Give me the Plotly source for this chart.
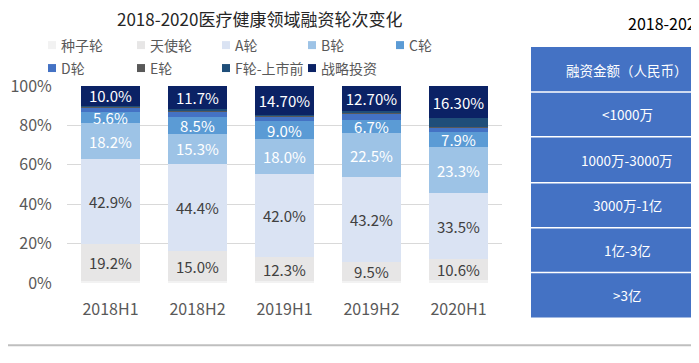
import plotly.graph_objects as go

periods = ["2018H1", "2018H2", "2019H1", "2019H2", "2020H1"]

seed = [0.8, 1.0, 0.8, 1.0, 1.5]
angel = [19.2, 15.0, 12.3, 9.5, 10.6]
round_a = [42.9, 44.4, 42.0, 43.2, 33.5]
round_b = [18.2, 15.3, 18.0, 22.5, 23.3]
round_c = [5.6, 8.5, 9.0, 6.7, 7.9]
round_d = [2.5, 3.0, 2.5, 3.0, 2.0]
round_e = [0.3, 0.5, 0.3, 0.6, 0.5]
round_f = [0.5, 0.6, 0.4, 0.8, 4.4]
strategic = [10.0, 11.7, 14.7, 12.7, 16.3]

angel_labels = ["19.2%", "15.0%", "12.3%", "9.5%", "10.6%"]
a_labels = ["42.9%", "44.4%", "42.0%", "43.2%", "33.5%"]
b_labels = ["18.2%", "15.3%", "18.0%", "22.5%", "23.3%"]
c_labels = ["5.6%", "8.5%", "9.0%", "6.7%", "7.9%"]
strategic_labels = ["10.0%", "11.7%", "14.70%", "12.70%", "16.30%"]

series_names = ["种子轮", "天使轮", "A轮", "B轮", "C轮", "D轮", "E轮", "F轮-上市前", "战略投资"]
series_values = [seed, angel, round_a, round_b, round_c, round_d, round_e, round_f, strategic]
series_labels = [None, angel_labels, a_labels, b_labels, c_labels, None, None, None, strategic_labels]
series_colors = ["#f2f2f2", "#e7e6e6", "#dae3f3", "#9dc3e6", "#5b9bd5", "#4472c4", "#595959", "#1f4e79", "#0b2265"]
label_colors = ["#404040", "#404040", "#404040", "#ffffff", "#ffffff", "#ffffff", "#ffffff", "#ffffff", "#ffffff"]

y_ticks = [0, 20, 40, 60, 80, 100]
y_tick_text = ["0%", "20%", "40%", "60%", "80%", "100%"]

table_rows = ["融资金额（人民币）", "<1000万", "1000万-3000万", "3000万-1亿", "1亿-3亿", ">3亿"]

FONT = "Noto Sans CJK SC, Microsoft YaHei, sans-serif"
OFF = 8  # page body margin
W, H = 691, 355
ML, MR, MT, MB = 59, 197, 78, 79.5
PW, PH = W - ML - MR, H - MT - MB

fig = go.Figure()
for name, vals, labels, color, lc in zip(series_names, series_values, series_labels, series_colors, label_colors):
    fig.add_trace(go.Bar(
        x=periods, y=vals, name=name, marker=dict(color=color, line=dict(width=0)),
        text=labels if labels else None,
        textposition="inside" if labels else "none",
        insidetextanchor="middle",
        constraintext="none",
        textfont=dict(size=15, color=lc, family=FONT),
        hoverinfo="skip",
    ))

fig.update_layout(
    barmode="stack", bargap=0.333,
    width=W, height=H,
    margin=dict(l=ML, r=MR, t=MT, b=MB, pad=0),
    paper_bgcolor="white", plot_bgcolor="white",
    showlegend=False,
    font=dict(family=FONT, color="#595959"),
    xaxis=dict(tickfont=dict(size=16, color="#595959"), ticks="outside", ticklen=12,
               tickcolor="rgba(0,0,0,0)", showline=False, showgrid=False, automargin=False),
    yaxis=dict(range=[0, 100], tickvals=y_ticks, ticktext=y_tick_text,
               tickfont=dict(size=16, color="#595959"), gridcolor="#d9d9d9",
               gridwidth=1, zeroline=False, showline=False, ticks="outside", ticklen=11,
               tickcolor="rgba(0,0,0,0)", automargin=False),
)

def px(sx):
    return (sx - OFF - ML) / PW

def py(sy):
    return 1 - (sy - OFF - MT) / PH

# titles
fig.add_annotation(text="2018-2020医疗健康领域融资轮次变化", x=px(259), y=py(18), xref="paper", yref="paper",
                   showarrow=False, xanchor="center", yanchor="middle",
                   font=dict(size=17, color="#262626", family=FONT))
fig.add_annotation(text="2018-2020医疗健康领域融资金额分布", x=px(626), y=py(23), xref="paper", yref="paper",
                   showarrow=False, xanchor="left", yanchor="middle",
                   font=dict(size=16, color="#000000", family=FONT))

# manual legend
legend_pos = [(48, 45), (137, 45), (222, 45), (308, 45), (396, 45),
              (48, 68), (137, 68), (222, 68), (308, 68)]
for name, color, (lx, ly) in zip(series_names, series_colors, legend_pos):
    fig.add_shape(type="rect", xref="paper", yref="paper",
                  x0=px(lx), x1=px(lx + 8), y0=py(ly + 4), y1=py(ly - 4),
                  fillcolor=color, line=dict(width=0))
    fig.add_annotation(text=name, x=px(lx + 11), y=py(ly), xref="paper", yref="paper",
                       showarrow=False, xanchor="left", yanchor="middle",
                       font=dict(size=14, color="#595959", family=FONT))

# table on the right
tx0, tx1 = 531, 723
row_edges = [47, 92, 137, 183, 228, 273, 318]
fig.add_shape(type="rect", xref="paper", yref="paper",
              x0=px(tx0), x1=px(tx1), y0=py(row_edges[-1]), y1=py(row_edges[0]),
              fillcolor="#4472c4", line=dict(width=0))
for e in row_edges[1:-1]:
    fig.add_shape(type="line", xref="paper", yref="paper",
                  x0=px(tx0), x1=px(tx1), y0=py(e), y1=py(e),
                  line=dict(color="#ffffff", width=1.5))
for i, t in enumerate(table_rows):
    cy = (row_edges[i] + row_edges[i + 1]) / 2
    fig.add_annotation(text=t, x=px(627), y=py(cy), xref="paper", yref="paper",
                       showarrow=False, xanchor="center", yanchor="middle",
                       font=dict(size=13.5, color="#ffffff", family=FONT))

# bottom rule
fig.add_shape(type="line", xref="paper", yref="paper", x0=px(0), x1=px(720), y0=py(346), y1=py(346),
              line=dict(color="#bfbfbf", width=2))

fig.write_html("out.html")
